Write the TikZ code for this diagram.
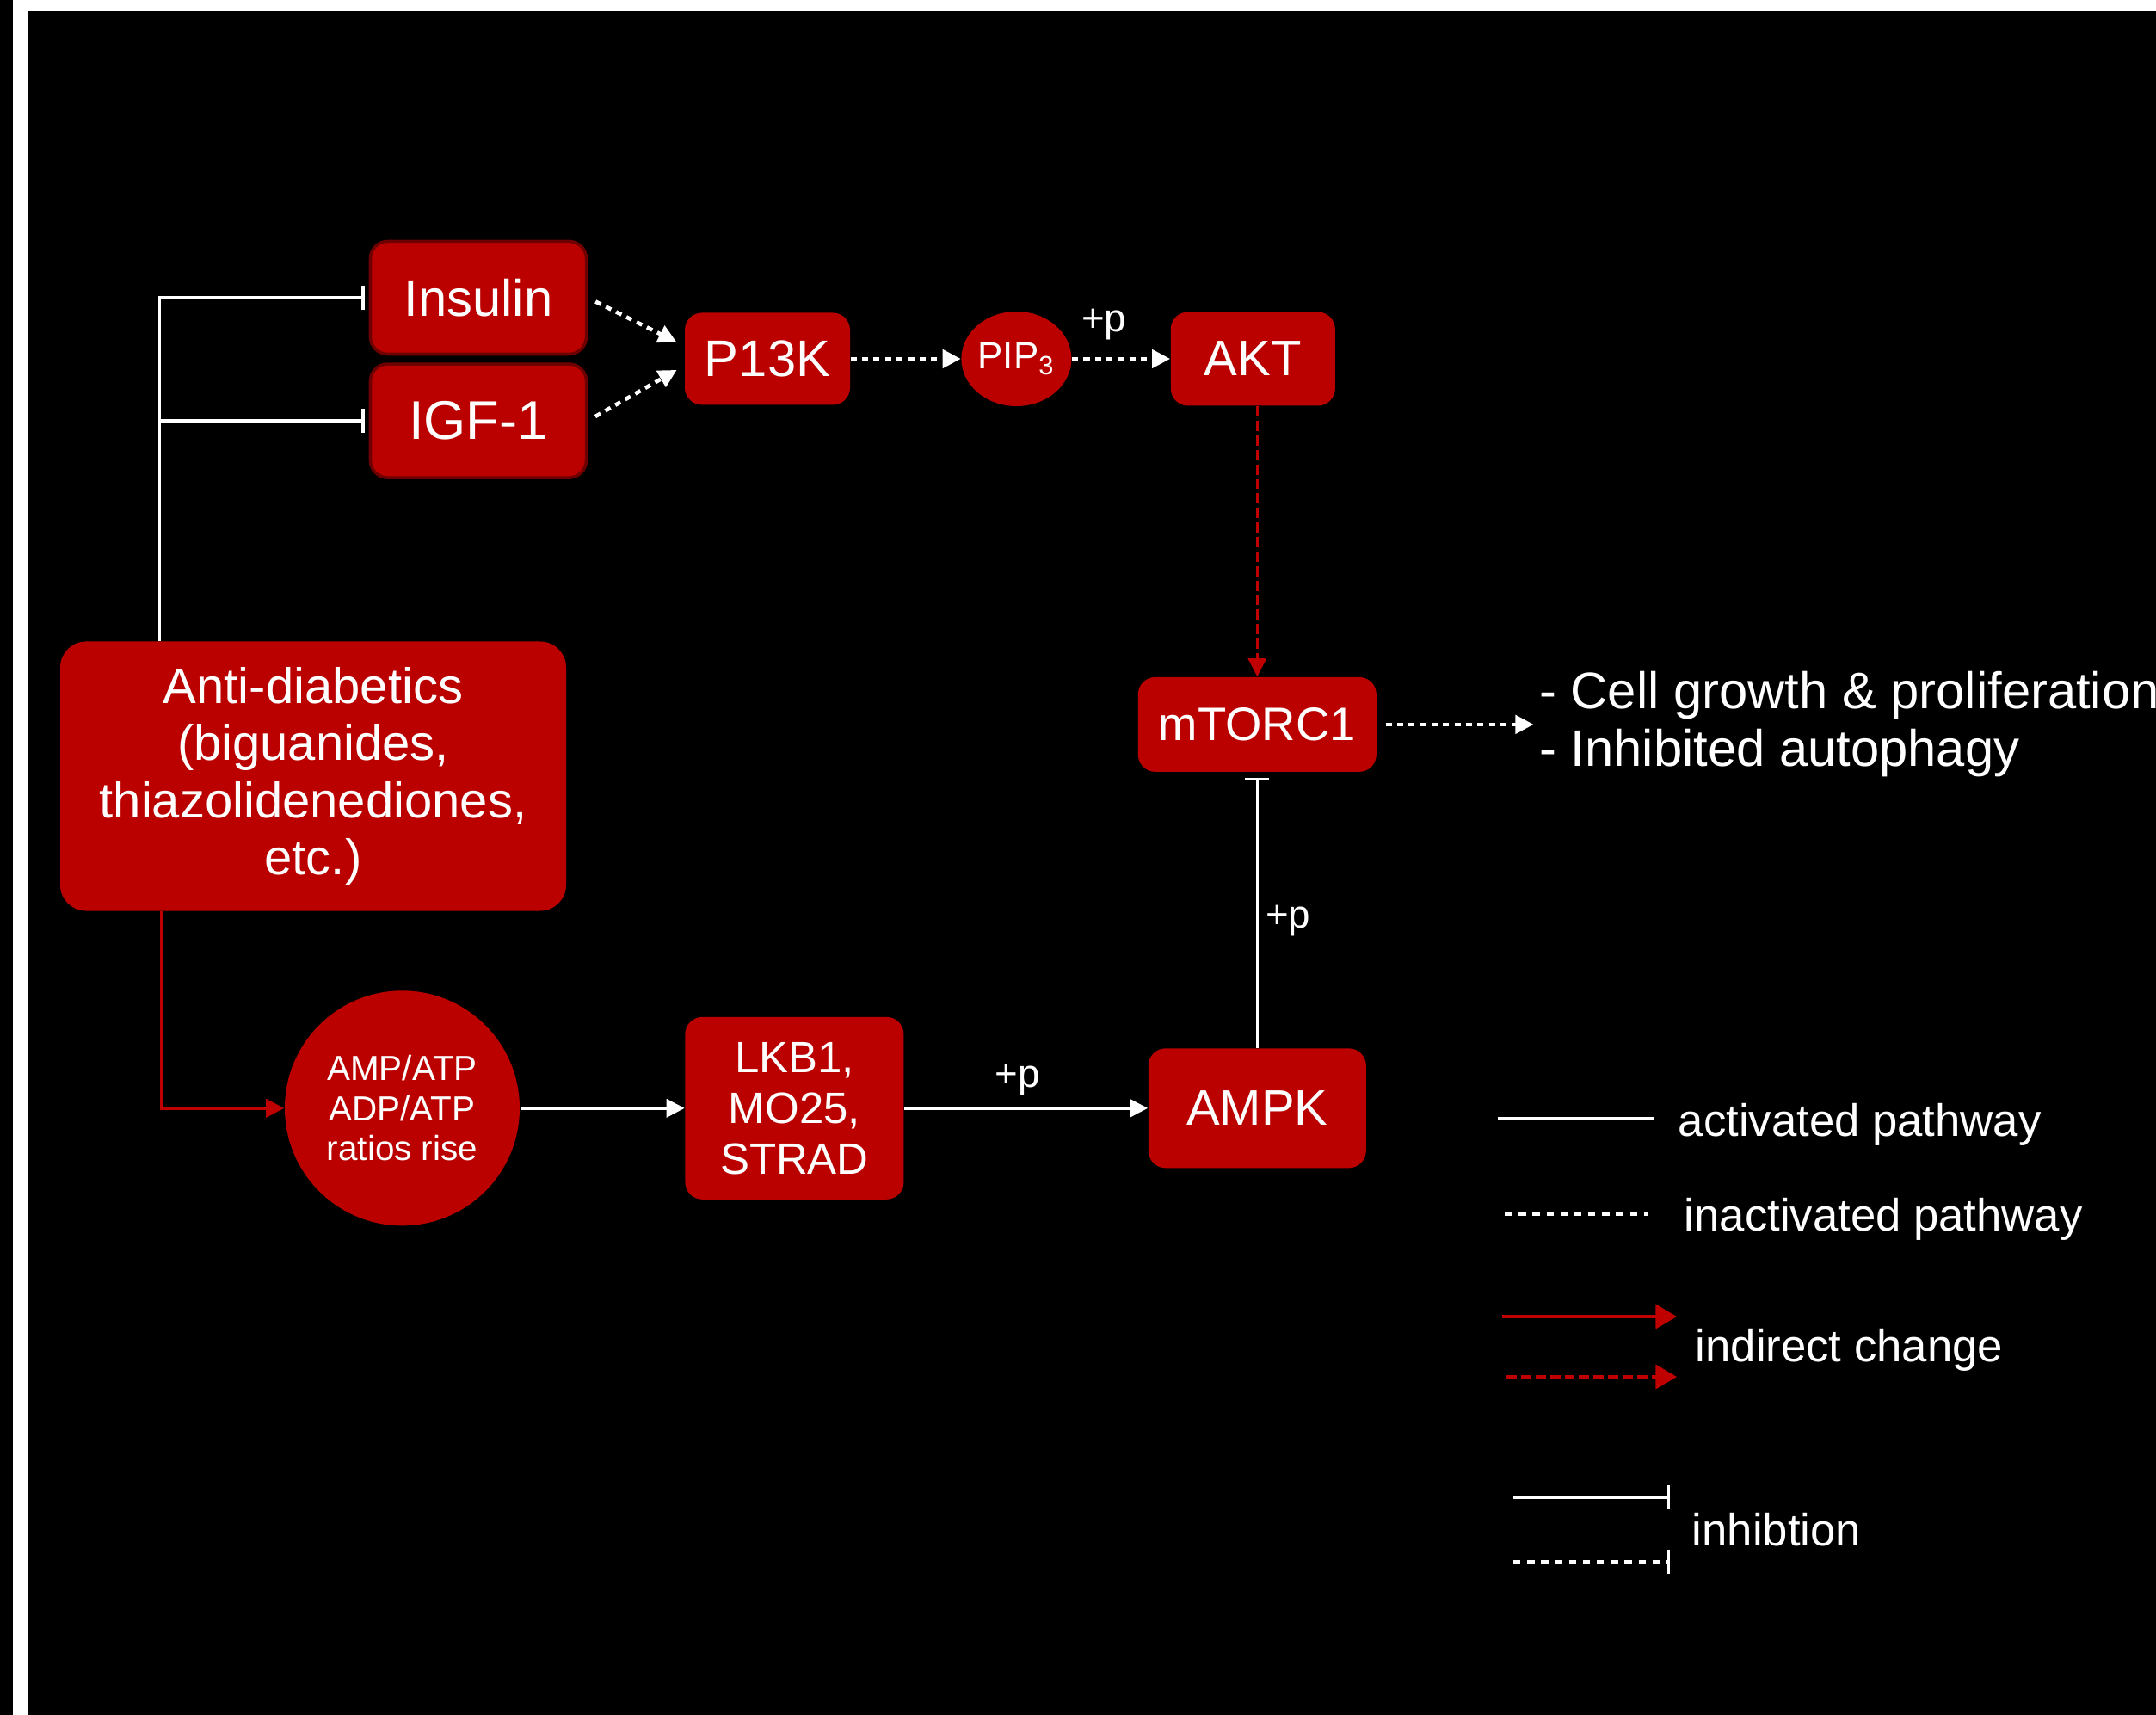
\documentclass[tikz,border=0pt]{standalone}
\usepackage{fontspec}
\setmainfont{Liberation Sans}
\usepackage{tikz}
\usetikzlibrary{positioning, shapes.geometric, arrows.meta}
\definecolor{boxred}{RGB}{187,0,0}
\definecolor{edgered}{RGB}{110,0,0}
\definecolor{linered}{RGB}{192,0,0}
\tikzset{
    block/.style={
        fill = boxred,
        rounded corners = 2mm,
        text = white,
        align = center,
        inner sep = 0pt,
        font = \fontsize{17}{20}\selectfont
    },
    tip/.style = {-{Triangle[length=6pt, width=6pt]}},
    line/.style = {white, line width = 1pt, tip},
    dotpath/.style = {white, line width = 1.3pt, dash pattern = on 2pt off 1.8pt},
    dotline/.style = {dotpath, tip},
    inhib/.style = {white, line width = 1pt, -{Bar[width=8pt]}, shorten >= 0.5mm},
    redline/.style = {linered, line width = 1pt, tip},
    reddash/.style = {linered, line width = 0.9pt, dash pattern = on 3.4pt off 1.4pt, tip},
    plabel/.style = {text = white, inner sep = 0pt, font = \fontsize{13}{15}\selectfont},
    legend/.style = {text = white, anchor = base west, inner sep = 0pt, font = \fontsize{15}{18}\selectfont}
}

\begin{document}
\begin{tikzpicture}

    % Background and frame
    \fill[black] (0,0) rectangle (25.06,-19.93);
    \fill[white] (0.15,0) rectangle (0.32,-19.93);
    \fill[white] (0.15,0) rectangle (25.06,-0.13);
    \useasboundingbox (0,0) rectangle (25.06,-19.93);

    % Blocks
    \node[block, minimum width=5.88cm, minimum height=3.13cm, rounded corners=3mm,
        font=\fontsize{16.5}{18.8}\selectfont] (anti) at (3.64,-9.02)
        {Anti-diabetics\\(biguanides,\\thiazolidenediones,\\etc.)};
    \node[block, draw=edgered, line width=1pt, minimum width=2.51cm, minimum height=1.31cm] (insulin) at (5.56,-3.46) {Insulin};
    \node[block, draw=edgered, line width=1pt, below=0.08cm of insulin, minimum width=2.51cm, minimum height=1.32cm,
        font=\fontsize{18}{20}\selectfont] (igf) {IGF-1};
    \node[block, minimum width=1.92cm, minimum height=1.07cm] (p13k) at (8.92,-4.17) {P13K};
    \node[block, ellipse, right=1.28cm of p13k, minimum width=1.28cm, minimum height=1.10cm,
        font=\fontsize{12.5}{15}\selectfont] (pip) {PIP\textsubscript{3}};
    \node[block, right=1.14cm of pip, minimum width=1.91cm, minimum height=1.09cm,
        font=\fontsize{16.5}{20}\selectfont] (akt) {AKT};
    \node[block, below=3.14cm of akt, xshift=0.05cm, minimum width=2.77cm, minimum height=1.10cm,
        font=\fontsize{15.5}{18}\selectfont] (mtorc) {mTORC1};
    \node[block, below=3.20cm of mtorc, minimum width=2.53cm, minimum height=1.39cm,
        font=\fontsize{16.5}{20}\selectfont] (ampk) {AMPK};
    \node[block, left=2.83cm of ampk, minimum width=2.54cm, minimum height=2.12cm,
        font=\fontsize{14.5}{16.8}\selectfont] (lkb) {LKB1,\\MO25,\\STRAD};
    \node[block, circle, left=1.91cm of lkb, minimum size=2.73cm,
        font=\fontsize{11.5}{13.2}\selectfont] (amp) {AMP/ATP\\ADP/ATP\\ratios rise};

    % Outcome
    \node[right=1.88cm of mtorc, align=left, inner sep=0pt, text=white,
        font=\fontsize{17}{19}\selectfont] (effects) {- Cell growth \& proliferation\\- Inhibited autophagy};

    % Lines
    \draw[dotline, shorten <=1mm, shorten >=1mm] (insulin.east) -- ([yshift=1.5mm]p13k.west);
    \draw[dotline, shorten <=1mm, shorten >=1mm] (igf.east) -- ([yshift=-0.8mm]p13k.west);
    \draw[dotline] (p13k) -- (pip);
    \draw[dotline] (pip) -- (akt) node[midway, above=0.2cm, xshift=-2mm, plabel] {+p};
    \draw[reddash] ([xshift=0.05cm]akt.south) -- (mtorc);
    \draw[dotline, shorten <=1mm, shorten >=0.6mm] (mtorc) -- (effects);
    \draw[inhib, shorten >=0.6mm] (ampk) -- (mtorc) node[pos=0.46, right=0.8mm, plabel] {+p};
    \draw[line] (lkb) -- (ampk) node[midway, above=0.13cm, xshift=-1mm, plabel] {+p};
    \draw[line] (amp) -- (lkb);

    % Anti-diabetics branches
    \coordinate (branch) at ([xshift=1.16cm]anti.north west);
    \draw[inhib] (branch) |- (insulin.west);
    \draw[inhib] (branch) |- (igf.west);
    \draw[redline] ([xshift=1.18cm]anti.south west) |- (amp.west);

    % Legend
    \node[legend] (lgact) at (19.50,-13.20) {activated pathway};
    \node[legend] (lginact) at (19.57,-14.30) {inactivated pathway};
    \node[legend] (lgind) at (19.70,-15.82) {indirect change};
    \node[legend] (lginh) at (19.66,-17.96) {inhibtion};
    \draw[white, line width=1pt] (17.41,-13.00) -- (19.22,-13.00);
    \draw[dotpath, dash pattern=on 2.4pt off 2.2pt] (17.49,-14.11) -- (19.16,-14.11);
    \draw[redline, -{Triangle[length=7pt, width=8pt]}] (17.46,-15.30) -- (19.49,-15.30);
    \draw[reddash, -{Triangle[length=7pt, width=8pt]}] (17.51,-16.00) -- (19.49,-16.00);
    \draw[inhib] (17.59,-17.40) -- (19.46,-17.40);
    \draw[inhib, dash pattern=on 2.4pt off 2.2pt] (17.59,-18.15) -- (19.46,-18.15);

\end{tikzpicture}
\end{document}
